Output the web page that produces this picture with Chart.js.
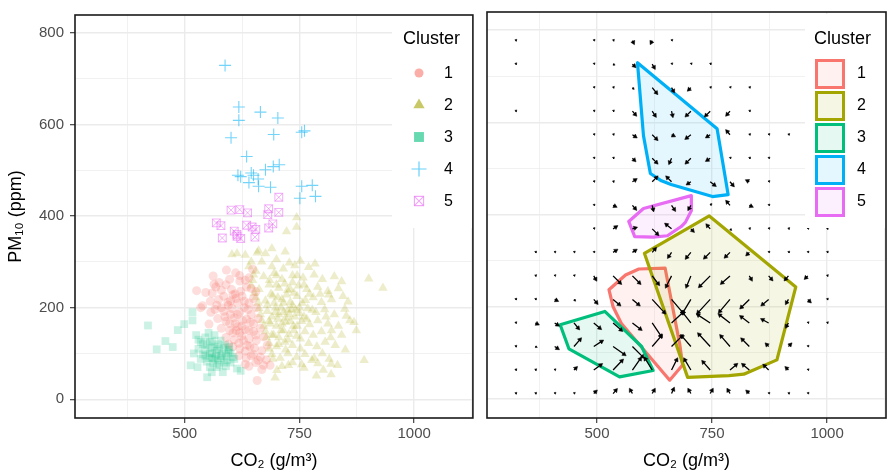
<!DOCTYPE html>
<html>
<head>
<meta charset="utf-8">
<script src="https://cdn.jsdelivr.net/npm/chart.js@4.4.1/dist/chart.umd.min.js"></script>
<style>
  body { margin: 0; background: #fff; }
  #wrap { position: relative; width: 888px; height: 474px; }
  canvas { position: absolute; top: 0; }
  #left { left: 0; }
  #right { left: 480px; }
</style>
</head>
<body>
<div id="wrap">
  <canvas id="left" width="480" height="474"></canvas>
  <canvas id="right" width="408" height="474"></canvas>
</div>
<script>
// ---- data (CO2, PM10) ----
const clusterLabels = ['1', '2', '3', '4', '5'];
const clusterColors = ['#F8766D', '#A3A500', '#00BF7D', '#00B0F6', '#E76BF3'];

const cluster1 = [
  [526,237],[562,269],[591,282],[611,276],[632,260],[648,284],[564,251],[535,200],[553,164],[546,233],[557,190],[539,204],[658,41],[632,76],[672,74],[686,74],
  [575,255],[598,262],[620,258],[640,265],
  [560,232],[580,238],[602,240],[622,236],[645,242],
  [556,214],[574,218],[594,212],[612,220],[630,214],[650,220],
  [566,196],[585,192],[603,198],[620,190],[638,196],[656,200],
  [572,176],[590,170],[608,178],[626,172],[643,168],[660,176],
  [580,155],[598,150],[615,158],[632,152],[650,148],[665,155],
  [590,135],[608,130],[624,138],[640,132],[656,128],[672,136],
  [605,115],[620,110],[636,118],[652,112],[668,106],[680,118],
  [618,95],[634,90],[650,98],[665,92],[678,86],
  [640,72],[655,80],[668,65],
  [610,165],[625,160],[615,185],[630,200],[600,185],[640,150],[645,185],[620,145],[635,175],[650,165],[595,205],[610,230],
  [590,250],[605,228],[615,210],[625,225],[585,225],[570,205],[588,180],[598,165],[612,150],[628,128],
  [642,115],[655,140],[605,145],[595,120],[618,122],[632,105],[645,95],[660,85],[580,200],[600,215],
  [640,210],[655,235],[635,245],[620,270],[568,245]
];
const cluster2 = [
  [744,397],[744,376],[722,366],[690,329],[719,322],[661,324],[603,316],[614,318],[632,315],[658,320],[676,318],
  [784,296],[842,257],[901,263],[932,243],[856,213],[814,228],[869,168],[874,150],[849,197],[891,85],
  [833,74],[819,77],[819,54],[802,64],[787,51],[697,47],[701,63],[726,74],[755,76],[777,85],
  [668,300],[700,305],[728,298],[752,302],[690,290],[715,285],[740,292],[770,288],
  [650,272],[672,268],[695,275],[712,262],[735,270],[758,265],[782,272],[800,262],[826,268],
  [645,248],[662,240],[684,250],[705,243],[724,238],[748,248],[766,240],[790,245],[812,236],[835,242],
  [655,222],[676,215],[692,226],[712,218],[730,212],[745,225],[763,216],[780,222],[798,212],[820,218],[845,225],
  [662,198],[680,192],[698,200],[716,190],[733,196],[750,188],[768,198],[786,190],[805,196],[826,185],[852,182],
  [668,172],[686,165],[703,175],[720,168],[737,160],[755,170],[772,163],[790,172],[812,165],[835,160],[860,172],
  [676,148],[694,140],[710,150],[727,142],[744,138],[762,148],[780,140],[798,148],[818,135],[842,140],
  [684,122],[700,115],[718,125],[735,118],[752,110],[770,122],[788,115],[806,125],[828,118],[850,108],
  [690,98],[708,90],[725,100],[744,92],[762,98],[782,90],[800,100],[815,88],
  [712,72],[735,80],[760,68],[790,78],
  [690,180],[705,185],[720,178],[700,160],[715,150],[725,195],[740,180],[695,210],[710,200],[730,170],
  [745,160],[680,205],[735,205],[760,180],[750,200],[705,135],[725,130],
  [640,290],[648,260],[652,232],[660,210],[665,185],[672,160],[678,135],[684,110],[692,88],[655,280],[645,300],
  [688,230],[703,222],[722,228],[738,232],[700,250],[718,252],[735,255],[684,170],[698,190],[712,165],
  [728,185],[742,195],[756,210],[772,230],[690,140],[705,120],[720,108],[738,150],[752,132],[766,175],
  [778,195],[795,230],[808,180],[820,150],[715,210],[730,240],[745,270],[760,250],[700,270],[685,260]
];
const cluster3 = [
  [420,161],[458,127],[439,109],[474,114],[485,151],[499,164],[517,190],[517,172],[513,74],[528,70],
  [549,48],[559,59],[583,59],[614,67],[622,62],[597,114],
  [525,140],[535,125],[545,135],[530,110],[548,118],[560,128],[572,120],[585,112],[595,102],[540,98],
  [555,100],[568,95],[580,90],[592,85],[605,92],[548,82],[562,78],[575,75],[590,72],[535,88],
  [520,100],[552,145],[565,140],[578,128],[588,118],[596,108],[558,112],[570,106],[582,100],[545,108],
  [560,90],[572,85],[600,80],[608,88],
  [555,125],[565,115],[575,110],[545,95],[560,100],[578,95],[590,95],[552,90],[565,88],[540,120],
  [530,130],[585,80],[570,70],[555,70],[600,100]
];
const cluster4 = [
  [588,729],[618,638],[618,609],[665,627],[703,614],[601,571],[694,578],[755,583],[761,586],[635,530],
  [616,489],[622,486],[645,494],[650,489],[660,481],[676,501],[693,508],[706,512],[661,465],[687,463],
  [755,465],[778,467],[751,439],[785,443],[640,473]
];
const cluster5 = [
  [705,441],[601,413],[620,414],[637,407],[683,416],[681,403],[705,408],[569,385],[579,379],[635,380],
  [647,376],[655,371],[692,383],[683,374],[608,367],[582,352],[614,356],[622,351],[653,354],[614,360]
];

// axis ticks
const xTickValues = [375, 500, 625, 750, 875, 1000, 1125];
const xTickLabels = [500, 750, 1000];
const yTickValues = [0, 100, 200, 300, 400, 500, 600, 700, 800];
const yTickLabels = [0, 200, 400, 600, 800];

// vector field grid (right panel): arrow components in data units
const gridX = [323, 366, 408, 450, 493, 535, 577, 620, 662, 704, 746, 789, 831, 873, 916, 958, 1000];
const gridY = [12, 63, 114, 165, 216, 267, 318, 369, 420, 471, 522, 573, 624, 675, 726, 777];
const arrowU = [
  [1,1,1,1,4,6,-4,4,4,-4,4,-4,-4,1,1,1,0],
  [1,1,1,4,15,19,17,-15,11,-13,-15,13,-13,-9,-4,1,0],
  [1,2,6,13,17,24,22,19,22,-19,-24,-19,-15,-4,4,1,0],
  [1,4,6,9,13,17,17,19,24,-17,-26,-22,-17,-13,-4,1,1],
  [1,1,4,2,6,13,13,26,24,-17,-26,-22,-17,-13,-4,4,1],
  [0,1,1,1,4,15,15,13,-11,-9,-22,-17,4,6,-6,-4,1],
  [0,1,1,1,1,6,6,6,-6,-9,-11,-9,-4,1,1,1,1],
  [0,0,0,0,1,6,6,11,-11,4,-6,2,1,1,1,1,1],
  [0,0,0,0,1,4,6,2,6,-4,2,-6,4,1,0,0,0],
  [0,0,0,0,1,1,6,9,-9,-6,9,6,-4,1,0,0,0],
  [0,0,0,0,1,1,4,9,-4,-9,-6,1,1,1,0,0,0],
  [0,0,0,0,1,1,6,9,4,-9,-6,-6,1,1,1,0,0],
  [1,0,0,0,1,1,6,6,2,-9,-9,-6,1,0,0,0,0],
  [0,0,0,0,1,1,2,9,4,-4,1,1,1,0,0,0,0],
  [1,0,0,0,1,2,4,4,1,1,1,0,0,0,0,0,0],
  [1,0,0,0,1,1,2,-2,1,0,0,0,0,0,0,0,0]
];
const arrowV = [
  [1,1,1,1,4,7,7,7,9,7,7,7,4,1,1,1,0],
  [1,1,1,4,11,20,24,24,22,22,17,11,11,9,4,1,0],
  [1,-1,-4,15,11,-17,-22,22,22,22,26,22,15,4,4,1,0],
  [1,-2,-4,-11,-11,-15,-13,-28,22,22,17,17,13,7,-7,1,1],
  [1,1,-2,-2,-7,-11,-11,-28,-28,-28,-28,-26,-17,-11,-7,-4,1],
  [0,1,1,1,-7,-15,-15,-17,-22,-22,-22,-15,-7,-7,-7,-4,1],
  [0,1,1,1,1,4,4,7,-9,-11,-11,-9,-4,1,1,1,1],
  [0,0,0,0,1,4,2,-11,9,-4,7,-2,1,1,1,1,1],
  [0,0,0,0,1,-2,-7,-9,-9,-7,2,7,-2,1,0,0,0],
  [0,0,0,0,1,1,4,9,9,-4,-7,-7,2,1,0,0,0],
  [0,0,0,0,1,1,-4,-9,-9,-9,-4,1,1,1,0,0,0],
  [0,0,0,0,1,1,-4,-9,-2,-7,-4,7,1,1,1,0,0],
  [1,0,0,0,1,1,-7,-9,-9,-9,-9,-7,1,0,0,0,0],
  [0,0,0,0,1,1,-2,-11,-7,-4,1,1,1,0,0,0,0],
  [1,0,0,0,1,-1,-4,-7,1,1,1,0,0,0,0,0,0],
  [1,0,0,0,1,1,-4,-4,1,0,0,0,0,0,0,0,0]
];

// ---- helpers ----
const FONT = '"Liberation Sans", Arial, Helvetica, sans-serif';
const X_MIN = 261, X_MAX = 1128, Y_MIN = -41, Y_MAX = 839;

function rgba(hex, a) {
  const n = parseInt(hex.slice(1), 16);
  return `rgba(${n >> 16},${(n >> 8) & 255},${n & 255},${a})`;
}
const toXY = arr => arr.map(([x, y]) => ({x, y}));

function convexHull(pts) {
  const p = pts.slice().sort((a, b) => a[0] - b[0] || a[1] - b[1]);
  const cross = (o, a, b) => (a[0] - o[0]) * (b[1] - o[1]) - (a[1] - o[1]) * (b[0] - o[0]);
  const lower = [], upper = [];
  for (const q of p) {
    while (lower.length >= 2 && cross(lower[lower.length - 2], lower[lower.length - 1], q) <= 0) lower.pop();
    lower.push(q);
  }
  for (const q of p.slice().reverse()) {
    while (upper.length >= 2 && cross(upper[upper.length - 2], upper[upper.length - 1], q) <= 0) upper.pop();
    upper.push(q);
  }
  lower.pop(); upper.pop();
  return lower.concat(upper);
}

const clusters = [cluster1, cluster2, cluster3, cluster4, cluster5];
const legendRows = [73, 105, 137, 169, 201];

function xAxis(withTitle) {
  return {
    type: 'linear', min: X_MIN, max: X_MAX,
    afterBuildTicks: a => { a.ticks = xTickValues.map(v => ({value: v})); },
    afterFit: a => { a.height = 56; },
    ticks: {
      autoSkip: false, maxRotation: 0, padding: 2, color: '#4D4D4D',
      font: {size: 15, family: FONT},
      callback: v => xTickLabels.includes(v) ? String(v) : ''
    },
    grid: {
      color: '#EBEBEB',
      lineWidth: c => (c.tick && xTickLabels.includes(c.tick.value)) ? 1.4 : 0.7,
      tickColor: c => (c.tick && xTickLabels.includes(c.tick.value)) ? '#333333' : 'rgba(0,0,0,0)',
      tickLength: 5, tickWidth: 1.1
    },
    border: {display: false},
    title: {
      display: withTitle, text: 'CO₂ (g/m³)', color: '#000',
      font: {size: 18, family: FONT}, padding: {top: 0, bottom: 2}
    }
  };
}

function yAxis(isLeft) {
  return {
    type: 'linear', min: Y_MIN, max: Y_MAX,
    afterBuildTicks: a => { a.ticks = yTickValues.map(v => ({value: v})); },
    afterFit: a => { a.width = isLeft ? 75 : 7; },
    ticks: {
      display: isLeft, autoSkip: false, padding: 6, color: '#4D4D4D',
      font: {size: 15, family: FONT},
      callback: v => yTickLabels.includes(v) ? String(v) : ''
    },
    grid: {
      color: '#EBEBEB',
      lineWidth: c => (c.tick && yTickLabels.includes(c.tick.value)) ? 1.4 : 0.7,
      tickColor: c => (c.tick && yTickLabels.includes(c.tick.value)) ? '#333333' : 'rgba(0,0,0,0)',
      drawTicks: isLeft, tickLength: 5, tickWidth: 1.1
    },
    border: {display: false},
    title: {
      display: isLeft, text: 'PM₁₀ (ppm)', color: '#000',
      font: {size: 18, family: FONT}, padding: {top: 5, bottom: 0}
    }
  };
}

const framePlugin = {
  id: 'frame',
  afterDraw(chart) {
    const {ctx, chartArea: a} = chart;
    ctx.save();
    ctx.strokeStyle = '#1a1a1a';
    ctx.lineWidth = 1.6;
    ctx.strokeRect(a.left, a.top, a.right - a.left, a.bottom - a.top);
    ctx.restore();
  }
};

// ---- left panel: scatter ----
const keyStyles = [
  {style: ['circle'], r: 4.5, fill: rgba(clusterColors[0], 0.6), line: 0},
  {style: ['triangle'], r: 6.5, fill: rgba(clusterColors[1], 0.6), line: 0},
  {style: ['rect'], r: 7, fill: rgba(clusterColors[2], 0.6), line: 0},
  {style: ['cross'], r: 7.5, stroke: rgba(clusterColors[3], 0.6), line: 1.2},
  {style: ['rect', 'crossRot'], r: 6.5, stroke: rgba(clusterColors[4], 0.6), line: 1.1}
];

const leftLegend = {
  id: 'leftLegend',
  afterDraw(chart) {
    const {ctx, chartArea} = chart;
    ctx.save();
    ctx.fillStyle = '#fff';
    ctx.fillRect(392, 14, chartArea.right - 392, 214);
    ctx.fillStyle = '#000';
    ctx.font = '18px ' + FONT;
    ctx.textBaseline = 'alphabetic';
    ctx.fillText('Cluster', 403, 44);
    ctx.font = '16px ' + FONT;
    ctx.textBaseline = 'middle';
    clusterLabels.forEach((lab, i) => {
      const y = legendRows[i];
      ctx.fillStyle = '#000';
      ctx.fillText(lab, 444, y + 1);
      const k = keyStyles[i];
      k.style.forEach(st => {
        ctx.fillStyle = k.fill || 'rgba(0,0,0,0)';
        ctx.strokeStyle = k.stroke || 'rgba(0,0,0,0)';
        ctx.lineWidth = k.line;
        Chart.helpers.drawPoint(ctx, {pointStyle: st, radius: k.r, rotation: 0, borderWidth: k.line}, 419, y);
      });
    });
    ctx.restore();
  }
};

new Chart(document.getElementById('left'), {
  type: 'scatter',
  data: {
    datasets: [
      {data: toXY(cluster4), pointStyle: 'cross', pointRadius: 6, pointBorderWidth: 1.1,
       pointBorderColor: rgba(clusterColors[3], 0.55), pointBackgroundColor: 'rgba(0,0,0,0)'},
      {data: toXY(cluster5), pointStyle: 'crossRot', pointRadius: 5.5, pointBorderWidth: 1,
       pointBorderColor: rgba(clusterColors[4], 0.5), pointBackgroundColor: 'rgba(0,0,0,0)'},
      {data: toXY(cluster5), pointStyle: 'rect', pointRadius: 5.5, pointBorderWidth: 1.1,
       pointBorderColor: rgba(clusterColors[4], 0.5), pointBackgroundColor: 'rgba(0,0,0,0)'},
      {data: toXY(cluster3), pointStyle: 'rect', pointRadius: 5.5, pointBorderWidth: 0,
       pointBackgroundColor: rgba(clusterColors[2], 0.2)},
      {data: toXY(cluster1), pointStyle: 'circle', pointRadius: 4.5, pointBorderWidth: 0,
       pointBackgroundColor: rgba(clusterColors[0], 0.24)},
      {data: toXY(cluster2), pointStyle: 'triangle', pointRadius: 5.5, pointBorderWidth: 0,
       pointBackgroundColor: rgba(clusterColors[1], 0.2)}
    ]
  },
  options: {
    responsive: false, animation: false, devicePixelRatio: 1, events: [],
    layout: {padding: {top: 12, right: 4, left: 0, bottom: 0}},
    plugins: {legend: {display: false}, tooltip: {enabled: false}},
    scales: {x: xAxis(true), y: yAxis(true)}
  },
  plugins: [leftLegend, framePlugin]
});

// ---- right panel: hulls + vector field ----
const arrowData = [];
gridY.forEach((yv, r) => {
  gridX.forEach((xv, c) => {
    const u = arrowU[r][c], v = arrowV[r][c];
    if (!u && !v) return;
    arrowData.push({x: xv, y: yv}, {x: xv + u, y: yv + v, u, v}, {x: null, y: null});
  });
});

function headPixels(c) {
  const p = c.raw;
  if (!p || p.u === undefined) return null;
  const sx = c.chart.scales.x, sy = c.chart.scales.y;
  const dx = sx.getPixelForValue(p.x) - sx.getPixelForValue(p.x - p.u);
  const dy = sy.getPixelForValue(p.y) - sy.getPixelForValue(p.y - p.v);
  return {dx, dy};
}

const hullPlugin = {
  id: 'hulls',
  beforeDatasetsDraw(chart) {
    const {ctx, chartArea: a, scales: {x, y}} = chart;
    ctx.save();
    ctx.beginPath();
    ctx.rect(a.left, a.top, a.right - a.left, a.bottom - a.top);
    ctx.clip();
    clusters.forEach((pts, i) => {
      const h = convexHull(pts);
      ctx.beginPath();
      h.forEach(([px, py], k) => {
        const X = x.getPixelForValue(px), Y = y.getPixelForValue(py);
        if (k) ctx.lineTo(X, Y); else ctx.moveTo(X, Y);
      });
      ctx.closePath();
      ctx.fillStyle = rgba(clusterColors[i], 0.1);
      ctx.fill();
      ctx.lineWidth = 3.2;
      ctx.lineJoin = 'round';
      ctx.strokeStyle = clusterColors[i];
      ctx.stroke();
    });
    ctx.restore();
  }
};

const rightLegend = {
  id: 'rightLegend',
  afterDraw(chart) {
    const {ctx, chartArea} = chart;
    ctx.save();
    ctx.fillStyle = '#fff';
    ctx.fillRect(325, 14, chartArea.right - 325, 214);
    ctx.fillStyle = '#000';
    ctx.font = '18px ' + FONT;
    ctx.textBaseline = 'alphabetic';
    ctx.fillText('Cluster', 334, 44);
    ctx.font = '16px ' + FONT;
    ctx.textBaseline = 'middle';
    clusterLabels.forEach((lab, i) => {
      const y = legendRows[i];
      ctx.fillStyle = rgba(clusterColors[i], 0.1);
      ctx.fillRect(336.5, y - 12.5, 27, 27);
      ctx.strokeStyle = clusterColors[i];
      ctx.lineWidth = 3;
      ctx.strokeRect(336.5, y - 12.5, 27, 27);
      ctx.fillStyle = '#000';
      ctx.fillText(lab, 377, y + 1);
    });
    ctx.restore();
  }
};

new Chart(document.getElementById('right'), {
  type: 'scatter',
  data: {
    datasets: [{
      data: arrowData,
      showLine: true, spanGaps: false,
      borderColor: '#000', borderWidth: 1.3,
      pointStyle: 'triangle',
      pointBackgroundColor: '#000', pointBorderColor: '#000', pointBorderWidth: 0.5,
      pointRadius: c => {
        const d = headPixels(c);
        if (!d) return 0;
        return Math.hypot(d.dx, d.dy) < 2 ? 1.2 : 2.5;
      },
      pointRotation: c => {
        const d = headPixels(c);
        if (!d) return 0;
        return Math.atan2(d.dx, -d.dy) * 180 / Math.PI;
      }
    }]
  },
  options: {
    responsive: false, animation: false, devicePixelRatio: 1, events: [],
    layout: {padding: {top: 12, right: 2, left: 0, bottom: 0}},
    plugins: {legend: {display: false}, tooltip: {enabled: false}},
    scales: {x: xAxis(true), y: yAxis(false)}
  },
  plugins: [hullPlugin, rightLegend, framePlugin]
});
</script>
</body>
</html>
